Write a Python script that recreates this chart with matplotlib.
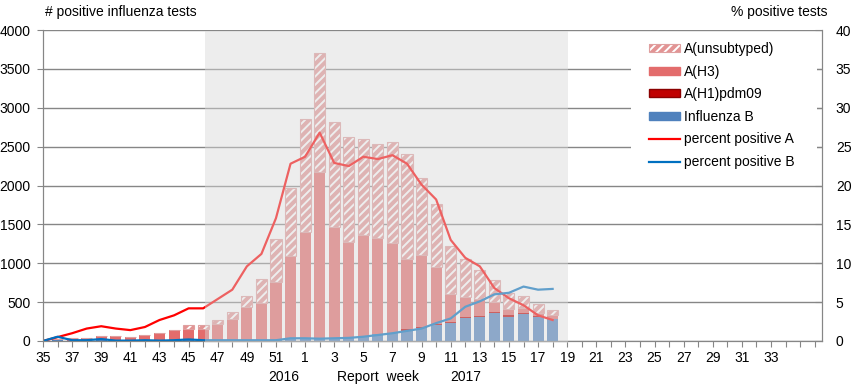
import matplotlib
matplotlib.use("Agg")
import matplotlib.pyplot as plt
from matplotlib.patches import Rectangle, Patch
from matplotlib.lines import Line2D
import matplotlib.transforms as mtransforms
import numpy as np

plt.rcParams['font.family'] = ['Liberation Sans', 'DejaVu Sans']
plt.rcParams['font.size'] = 10
plt.rcParams['hatch.linewidth'] = 1.4

# report weeks 35 (2016) .. 18 (2017) with data, axis goes on to week 35+
weeks = list(range(35, 53)) + list(range(1, 19))
all_weeks = list(range(35, 53)) + list(range(1, 37))

infl_b = [0, 8, 5, 5, 8, 5, 5, 8, 5, 8, 10, 8, 8, 10, 12, 15, 15, 30,
          35, 35, 40, 55, 70, 86, 99, 133, 163, 206, 235, 300, 313, 360, 313, 347, 313, 279]
a_h1 = [0] * 25 + [20, 15, 15, 15, 10, 10, 8, 15, 8, 8, 8]
a_h3 = [0, 12, 30, 38, 56, 59, 46, 69, 102, 133, 140, 142, 210, 269, 421, 478, 748, 1067,
        1371, 2135, 1430, 1215, 1289, 1239, 1157, 901, 924, 731, 350, 252, 213, 138, 79, 65, 35, 43]
a_unsub = [0] * 10 + [60, 60, 52, 90, 146, 300, 545, 866,
                      1445, 1530, 1351, 1350, 1235, 1205, 1299, 1346, 990, 810, 628, 499, 377, 278, 206, 163, 120, 65]

pct_a = [0, 0.5, 1.0, 1.6, 1.9, 1.6, 1.4, 1.8, 2.7, 3.3, 4.2, 4.2, 5.4, 6.6, 9.6, 11.2, 15.8, 22.8,
         23.7, 26.8, 22.9, 22.5, 23.7, 23.4, 23.9, 22.8, 20.1, 18.2, 13.0, 10.7, 9.6, 6.8, 5.5, 4.6, 3.3, 2.7]
pct_b = [0, 0.55, 0.1, 0.1, 0.25, 0.05, 0.05, 0.1, 0.05, 0.1, 0.2, 0.1, 0.1, 0.1, 0.1, 0.1, 0.1, 0.35,
         0.35, 0.3, 0.35, 0.4, 0.55, 0.77, 1.0, 1.3, 1.6, 2.3, 2.9, 4.4, 5.1, 6.0, 6.2, 7.0, 6.6, 6.7]

c_unsub = '#E39494'
c_unsub_edge = '#DFA0A0'
c_h3 = '#E36C6C'
c_h1 = '#C00000'
c_b = '#4F81BD'
c_pa = '#FF0000'
c_pb = '#0070C0'
grid_c = '#868686'

x = np.arange(len(weeks))
b = np.array(infl_b)
h1 = np.array(a_h1)
h3 = np.array(a_h3)
un = np.array(a_unsub)

fig = plt.figure(figsize=(8.53, 3.89), dpi=100)
ax = fig.add_axes([43/853, 1-341/389, (822-43)/853, (341-30)/389])

w = 0.76
ax.bar(x, b, w, color=c_b, zorder=2)
ax.bar(x, h1, w, bottom=b, color=c_h1, zorder=2)
ax.bar(x, h3, w, bottom=b+h1, color=c_h3, zorder=2)
# unsubtyped: pink with white stripes, pink outline
ax.bar(x, un, w, bottom=b+h1+h3, facecolor=c_unsub, edgecolor='white', hatch='////', linewidth=0, zorder=2)
ax.bar(x, un, w, bottom=b+h1+h3, fill=False, edgecolor=c_unsub_edge, linewidth=0.8, zorder=2)

ax.set_ylim(0, 4000)
ax.set_xlim(0, 53.5)
ax.set_yticks(range(0, 4001, 500))
ax.yaxis.grid(True, color=grid_c, linewidth=1)
ax.set_axisbelow(True)

ax.set_xticks(range(0, 54))
labels = [str(wk) if (wk % 2 == 1 and i <= 50) else '' for i, wk in enumerate(all_weeks)]
ax.set_xticklabels(labels)
ax.tick_params(axis='x', length=4, color=grid_c, pad=3)
ax.tick_params(axis='y', length=4, color=grid_c, pad=5)

ax.spines['top'].set_visible(False)
for s in ['left', 'bottom', 'right']:
    ax.spines[s].set_color(grid_c)

ax2 = ax.twinx()
ax2.set_ylim(0, 40)
ax2.set_yticks(range(0, 41, 5))
ax2.tick_params(axis='y', direction='in', length=5, color=grid_c, pad=10)
ax2.spines['top'].set_visible(False)
for s in ['left', 'bottom', 'right']:
    ax2.spines[s].set_color(grid_c)

ax2.plot(x, pct_a, color=c_pa, linewidth=1.6, zorder=2)
ax2.plot(x, pct_b, color=c_pb, linewidth=1.6, zorder=2)

# shaded period drawn over the data
trans = mtransforms.blended_transform_factory(ax2.transData, ax2.transAxes)
ax2.add_patch(Rectangle((11.15, -0.006), 36.05 - 11.15, 1.003, transform=trans,
                        facecolor='#D9D9D9', alpha=0.45, edgecolor='none', zorder=3, clip_on=False))

# white box behind the legend
ax2.add_patch(Rectangle((631/853, 1-175/389), (817-631)/853, (175-33)/389, transform=fig.transFigure,
                        facecolor='white', edgecolor='none', zorder=4))

handles = [
    (Patch(facecolor=c_unsub, edgecolor='white', hatch='////', linewidth=0),
     Patch(fill=False, edgecolor=c_unsub_edge, linewidth=0.8)),
    Patch(facecolor=c_h3, edgecolor=c_h3),
    Patch(facecolor=c_h1, edgecolor='#8B0000'),
    Patch(facecolor=c_b, edgecolor=c_b),
    Line2D([], [], color=c_pa, linewidth=1.6),
    Line2D([], [], color=c_pb, linewidth=1.6),
]
names = ['A(unsubtyped)', 'A(H3)', 'A(H1)pdm09', 'Influenza B', 'percent positive A', 'percent positive B']
leg = ax2.legend(handles, names, loc='upper left', bbox_to_anchor=(649/853, 1-42/389),
                 bbox_transform=fig.transFigure, frameon=False, fontsize=10,
                 handlelength=2.2, handleheight=0.55, handletextpad=0.3, labelspacing=0.62,
                 borderpad=0, borderaxespad=0)
leg.set_zorder(5)

fig.text(45/853, 1-12/389, '# positive influenza tests', ha='left', va='center', fontsize=10)
fig.text(828/853, 1-12/389, '% positive tests', ha='right', va='center', fontsize=10)

tb = mtransforms.blended_transform_factory(ax.transData, ax.transAxes)
ax.text(16.55, -0.115, '2016', transform=tb, ha='center', va='center', fontsize=10)
ax.text(23.0, -0.115, 'Report  week', transform=tb, ha='center', va='center', fontsize=10)
ax.text(29.0, -0.115, '2017', transform=tb, ha='center', va='center', fontsize=10)

fig.savefig('out.png', dpi=100)
